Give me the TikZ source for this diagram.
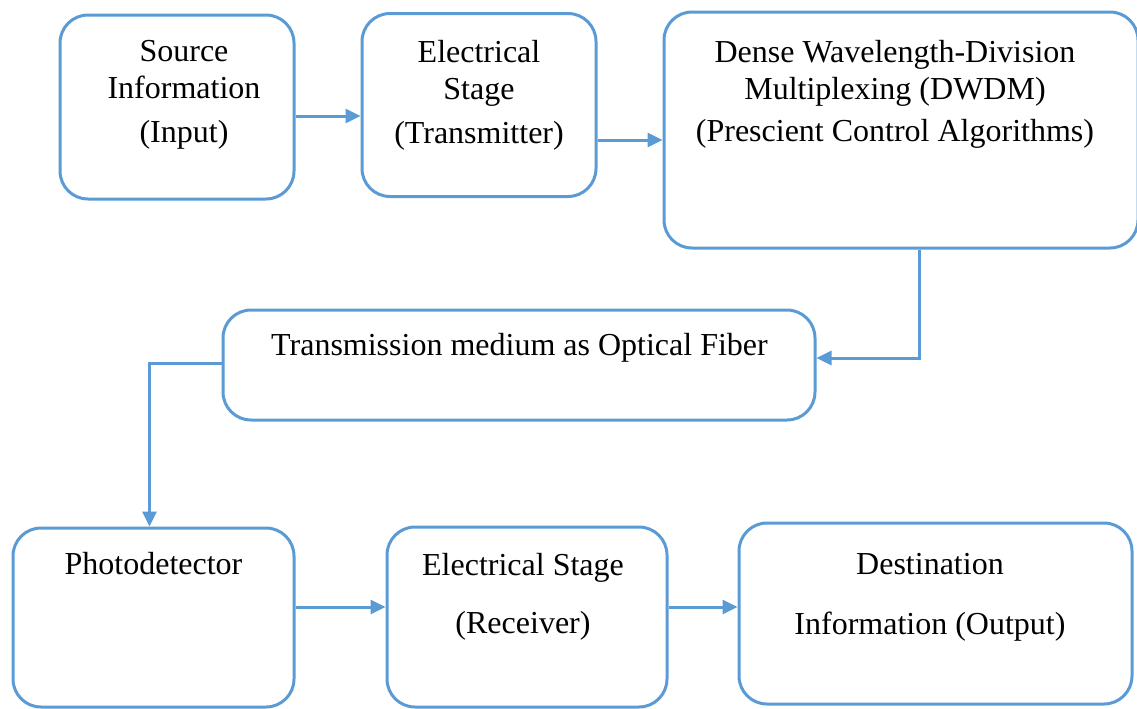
\documentclass[tikz,border=0pt]{standalone}
\usepackage{fontspec}
\setmainfont{Liberation Serif}
\usepackage{xcolor}
\usetikzlibrary{positioning}
\usetikzlibrary{arrows.meta}
\definecolor{boxblue}{HTML}{5B9BD5}
\tikzset{
	blk/.style={draw=boxblue, line width=1.5pt, rounded corners=14pt, inner sep=0pt},
	txt/.style={align=center, anchor=north, inner sep=0pt, font=\fontsize{16}{18.5}\selectfont},
	link/.style={draw=boxblue, line width=1.5pt, -{Triangle[length=7.5pt, width=7pt]}}
}
\begin{document}
\begin{tikzpicture}[x=0.5pt, y=-0.5pt]
		\useasboundingbox (0,0) rectangle (1137,708);
		% boxes
		\node[blk, minimum width=117pt, minimum height=92pt] (src) at (177,107) {};
		\node[blk, minimum width=117pt, minimum height=91.5pt] (etx) at (479,105) {};
		\node[blk, minimum width=237pt, minimum height=118pt] (dwdm) at (901,130) {};
		\node[blk, minimum width=296pt, minimum height=55pt] (tx) at (519,365) {};
		\node[blk, minimum width=140.5pt, minimum height=89.5pt] (pd) at (153.5,617.5) {};
		\node[blk, minimum width=140pt, minimum height=90pt] (erx) at (527,617) {};
		\node[blk, minimum width=196.5pt, minimum height=90.5pt] (dest) at (935.5,613.5) {};
		% texts
		\node[txt] (src-t) at (184,40) {Source\\Information\\[3.5pt](Input)};
		\node[txt] (etx-t) at (479,40) {Electrical\\Stage\\[3.5pt](Transmitter)};
		\node[txt] (dwdm-t) at (895,40) {Dense Wavelength-Division\\Multiplexing (DWDM)\\[2.5pt](Prescient Control Algorithms)};
		\node[txt] (tx-t) at (519.5,333) {Transmission medium as Optical Fiber};
		\node[txt] (pd-t) at (153.5,552) {Photodetector};
		\node[txt] (erx-t) at (523,553) {Electrical Stage\\[10.5pt](Receiver)};
		\node[txt] (dest-t) at (930,553) {Destination\\[11.5pt]Information (Output)};
		% connectors
		\draw[link] ([yshift=-4.5pt]src.east) -- ([yshift=-4.5pt]src.east -| etx.west);
		\draw[link] ([yshift=-17.5pt]etx.east) -- ([yshift=-17.5pt]etx.east -| dwdm.west);
		\draw[link] ([xshift=9pt]dwdm.south) |- ([yshift=3.5pt]tx.east);
		\draw[link] ([yshift=1pt]tx.west) -| ([xshift=-2pt]pd.north);
		\draw[link] ([yshift=5.25pt]pd.east) -- ([yshift=5.25pt]pd.east -| erx.west);
		\draw[link] ([yshift=5pt]erx.east) -- ([yshift=5pt]erx.east -| dest.west);
\end{tikzpicture}
\end{document}
